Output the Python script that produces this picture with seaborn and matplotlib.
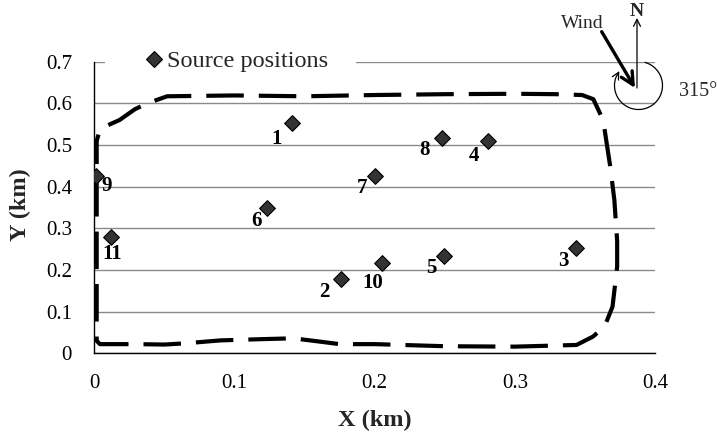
import numpy as np
import pandas as pd
import matplotlib
matplotlib.use("Agg")
import matplotlib.pyplot as plt
import seaborn as sns
from matplotlib.patches import FancyArrowPatch, Arc, Rectangle
from matplotlib.lines import Line2D

# ---- data ----
labels = ["1", "2", "3", "4", "5", "6", "7", "8", "9", "10", "11"]
x_km = [0.1407, 0.1763, 0.3438, 0.2808, 0.2495, 0.1233, 0.2000, 0.2483, 0.0010, 0.2056, 0.0117]
y_km = [0.552, 0.178, 0.252, 0.510, 0.234, 0.348, 0.426, 0.518, 0.426, 0.216, 0.278]
# label offsets (points) relative to marker
label_dx = [-11, -12, -9, -10, -9, -8, -9, -13, 8, -7, 1]
label_dy = [-11, -9, -9, -11, -9, -9, -9, -9, -7, -14, -12]

boundary_x = [0.010, 0.018, 0.029, 0.0385, 0.052, 0.10, 0.15, 0.20, 0.25, 0.30, 0.33, 0.348,
              0.356, 0.363, 0.368, 0.371, 0.373, 0.373, 0.3697, 0.364, 0.3557, 0.344, 0.30,
              0.25, 0.22, 0.20, 0.175, 0.161, 0.142, 0.12, 0.09, 0.065, 0.05, 0.03, 0.004,
              0.0017, 0.0017, 0.0017, 0.003]
boundary_y = [0.548, 0.560, 0.586, 0.601, 0.617, 0.619, 0.617, 0.620, 0.622, 0.623, 0.622, 0.620,
              0.610, 0.560, 0.450, 0.368, 0.270, 0.208, 0.112, 0.064, 0.040, 0.020, 0.016,
              0.017, 0.020, 0.022, 0.022, 0.028, 0.036, 0.034, 0.031, 0.024, 0.021, 0.022, 0.022,
              0.030, 0.300, 0.510, 0.525]

x_ticks = [0, 0.1, 0.2, 0.3, 0.4]
x_tick_labels = ["0", "0.1", "0.2", "0.3", "0.4"]
y_ticks = [0, 0.1, 0.2, 0.3, 0.4, 0.5, 0.6, 0.7]
y_tick_labels = ["0", "0.1", "0.2", "0.3", "0.4", "0.5", "0.6", "0.7"]

df = pd.DataFrame({"x": x_km, "y": y_km, "label": labels})

# ---- style ----
sns.set_theme(style="white")
plt.rcParams["font.family"] = ["Liberation Serif", "DejaVu Serif"]

W, H = 717, 438
fig = plt.figure(figsize=(W / 100, H / 100), dpi=100)
fig.patch.set_facecolor("white")

def P(px, py):
    return (px / W, 1 - py / H)

ax_l, ax_r, ax_t, ax_b = 94.3, 655.0, 61.7, 353.3
ax = fig.add_axes([ax_l / W, 1 - ax_b / H, (ax_r - ax_l) / W, (ax_b - ax_t) / H])
ax.set_facecolor("white")

# grid
ax.set_axisbelow(True)
ax.yaxis.grid(True, color="#8a8a8a", linewidth=1.0)
ax.xaxis.grid(False)

# boundary (dashed)
ax.plot(boundary_x, boundary_y, color="black", linewidth=3.0, dashes=(9, 3.6),
        solid_capstyle="butt", dash_capstyle="butt", zorder=2)

# source positions
sns.scatterplot(data=df, x="x", y="y", marker="D", s=64, color="#333333",
                edgecolor="black", linewidth=0.8, ax=ax, zorder=4, legend=False)

for lab, xx, yy, dx, dy in zip(labels, x_km, y_km, label_dx, label_dy):
    ax.annotate(lab, (xx, yy), xytext=(dx, dy), textcoords="offset points",
                ha="center", va="center", fontsize=15, fontweight="bold", color="black",
                zorder=5)

ax.set_xlim(0, 0.4)
ax.set_ylim(0, 0.7)
ax.set_xticks(x_ticks)
ax.set_xticklabels(x_tick_labels)
ax.set_yticks(y_ticks)
ax.set_yticklabels(y_tick_labels)
ax.tick_params(axis="both", direction="out", length=5, width=1, color="black",
               labelsize=15, labelcolor="black")
ax.tick_params(axis="x", pad=10)
ax.tick_params(axis="y", pad=11)

for s in ["top", "right"]:
    ax.spines[s].set_visible(False)
for s in ["left", "bottom"]:
    ax.spines[s].set_color("black")
    ax.spines[s].set_linewidth(1.0)

ax.set_xlabel("X (km)", fontsize=17.5, fontweight="bold")
ax.set_ylabel("Y (km)", fontsize=17.5, fontweight="bold")
ax.xaxis.set_label_coords(0.5, (ax_b - 420) / (ax_b - ax_t))
ax.xaxis.label.set_va("center")
ax.yaxis.set_label_coords((20 - ax_l) / (ax_r - ax_l), (ax_b - 205) / (ax_b - ax_t))
ax.yaxis.label.set_va("center")
ax.yaxis.label.set_ha("center")

# legend background (covers grid line)
x0, y0 = P(105, 74)
x1, y1 = P(356, 48)
ax.add_patch(Rectangle((x0, y0), x1 - x0, y1 - y0, transform=fig.transFigure,
                       facecolor="white", edgecolor="none", zorder=1.5, clip_on=False))
handle = Line2D([], [], marker="D", linestyle="none", markersize=8,
                markerfacecolor="#333333", markeredgecolor="black", markeredgewidth=0.8)
ax.legend([handle], ["Source positions"], loc="center left",
          bbox_to_anchor=P(146.5, 61), bbox_transform=fig.transFigure,
          frameon=False, borderpad=0, borderaxespad=0, handlelength=0.6,
          handletextpad=0.25, fontsize=17.5)

# ---- wind compass ----
fig.text(*P(582, 23), "Wind", ha="center", va="center", fontsize=14)
fig.text(*P(637, 11), "N", ha="center", va="center", fontsize=14, fontweight="bold")
fig.text(*P(679, 92), "315°", ha="left", va="center", fontsize=14.5)

n_arrow = FancyArrowPatch(P(637, 88), P(637, 18), transform=fig.transFigure,
                          arrowstyle="->,head_length=5,head_width=2.5",
                          mutation_scale=1, linewidth=0.9, color="black",
                          shrinkA=0, shrinkB=0)
fig.add_artist(n_arrow)
wind_arrow = FancyArrowPatch(P(601.7, 31.7), P(635, 88), transform=fig.transFigure,
                             arrowstyle="->,head_length=9,head_width=4.5",
                             mutation_scale=1, linewidth=2.4, color="black",
                             shrinkA=0, shrinkB=0)
fig.add_artist(wind_arrow)

cx, cy, r = 638.5, 85.5, 24.0
arc = Arc(P(cx, cy), 2 * r / W, 2 * r / H, theta1=150, theta2=441,
          transform=fig.transFigure, color="black", linewidth=0.9)
fig.add_artist(arc)
th0, th1 = np.deg2rad(160), np.deg2rad(143)
pA = P(cx + r * np.cos(th0), cy - r * np.sin(th0))
pB = P(cx + r * np.cos(th1), cy - r * np.sin(th1))
arc_head = FancyArrowPatch(pA, pB, transform=fig.transFigure,
                           arrowstyle="->,head_length=5,head_width=2.5",
                           mutation_scale=1, linewidth=0.9, color="black",
                           shrinkA=0, shrinkB=0)
fig.add_artist(arc_head)

fig.savefig("out.png", dpi=100, facecolor="white")
